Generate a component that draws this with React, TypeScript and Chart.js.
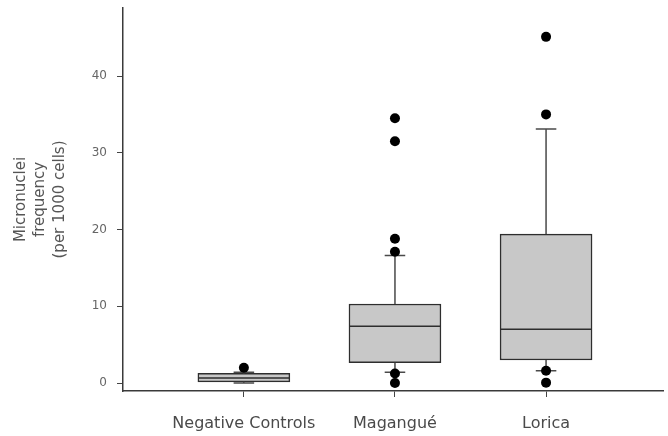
import React, { useEffect, useRef } from 'react';
import { Chart, registerables } from 'chart.js';

Chart.register(...registerables);

const categories = ['Negative Controls', 'Magangué', 'Lorica'];
const positions = [1, 2, 3];
const whiskerLow = [0, 1.4, 1.6];
const q1 = [0.15, 2.65, 3.0];
const median = [0.65, 7.4, 7.0];
const q3 = [1.25, 10.3, 19.4];
const whiskerHigh = [1.4, 16.6, 33.1];
const outliers = [
  [2.0],
  [0, 1.25, 17.1, 18.8, 31.5, 34.5],
  [0.05, 1.6, 35.0, 45.1],
];
const yTicks = [0, 10, 20, 30, 40];

const FONT = 'DejaVu Sans';
const BOX_PX = 92;
const BOX_HALF = 0.302;
const CAP_HALF = 0.068;

export default function App() {
  const ref = useRef<HTMLCanvasElement | null>(null);

  useEffect(() => {
    if (!ref.current) return;
    const gap = (p: number) => ({ x: p, y: null as any });

    const whiskerData: any[] = [];
    const medianData: any[] = [];
    positions.forEach((p, i) => {
      whiskerData.push({ x: p, y: q3[i] }, { x: p, y: whiskerHigh[i] }, gap(p));
      whiskerData.push({ x: p, y: q1[i] }, { x: p, y: whiskerLow[i] }, gap(p));
      whiskerData.push({ x: p - CAP_HALF, y: whiskerHigh[i] }, { x: p + CAP_HALF, y: whiskerHigh[i] }, gap(p));
      whiskerData.push({ x: p - CAP_HALF, y: whiskerLow[i] }, { x: p + CAP_HALF, y: whiskerLow[i] }, gap(p));
      medianData.push({ x: p - BOX_HALF, y: median[i] }, { x: p + BOX_HALF, y: median[i] }, gap(p));
    });

    const outlierData: any[] = [];
    positions.forEach((p, i) => outliers[i].forEach((v) => outlierData.push({ x: p, y: v })));

    const chart = new Chart(ref.current, {
      type: 'bar',
      data: {
        datasets: [
          {
            type: 'scatter',
            data: outlierData,
            pointRadius: 5,
            pointHoverRadius: 5,
            backgroundColor: '#000',
            borderColor: '#000',
            borderWidth: 0,
            order: 1,
          } as any,
          {
            type: 'line',
            data: medianData,
            borderColor: '#2e2e2e',
            borderWidth: 1.5,
            pointRadius: 0,
            spanGaps: false,
            fill: false,
            order: 2,
          } as any,
          {
            type: 'line',
            data: whiskerData,
            borderColor: '#4a4a4a',
            borderWidth: 1.5,
            pointRadius: 0,
            spanGaps: false,
            fill: false,
            order: 3,
          } as any,
          {
            type: 'bar',
            data: positions.map((p, i) => ({ x: p, y: [q1[i], q3[i]] })),
            backgroundColor: '#c8c8c8',
            borderColor: '#2e2e2e',
            borderWidth: 1.5,
            borderSkipped: false,
            barThickness: BOX_PX,
            order: 4,
          } as any,
        ],
      },
      options: {
        animation: false,
        responsive: false,
        layout: { padding: { top: 8, right: 0, left: 0, bottom: 0 } },
        plugins: { legend: { display: false }, tooltip: { enabled: false } },
        scales: {
          x: {
            type: 'linear',
            offset: false,
            min: 0.2,
            max: 3.774,
            afterBuildTicks: (s: any) => {
              s.ticks = positions.map((v) => ({ value: v }));
            },
            afterFit: (s: any) => {
              s.height = 45;
              s.paddingLeft = 0;
              s.paddingRight = 0;
            },
            ticks: {
              callback: (_v: any, idx: number) => categories[idx],
              font: { family: FONT, size: 16 },
              color: '#4a4a4a',
              padding: 17,
              maxRotation: 0,
              autoSkip: false,
            },
            grid: {
              display: true,
              offset: false,
              drawOnChartArea: false,
              drawTicks: true,
              tickLength: 6,
              color: '#444',
              lineWidth: 1,
            },
            border: { display: true, color: '#3a3a3a', width: 1.5 },
          },
          y: {
            type: 'linear',
            min: -1.04,
            max: 48.86,
            afterBuildTicks: (s: any) => {
              s.ticks = yTicks.map((v) => ({ value: v }));
            },
            afterFit: (s: any) => {
              s.width = 123;
              s.paddingTop = 0;
              s.paddingBottom = 0;
            },
            ticks: {
              font: { family: FONT, size: 12 },
              color: '#666',
              padding: 10,
            },
            grid: {
              display: true,
              drawOnChartArea: false,
              drawTicks: true,
              tickLength: 6,
              color: '#444',
              lineWidth: 1,
            },
            border: { display: true, color: '#3a3a3a', width: 1.5 },
            title: {
              display: true,
              text: ['Micronuclei', 'frequency', '(per 1000 cells)'],
              font: { family: FONT, size: 15, lineHeight: 1.3 },
              color: '#555',
              padding: { top: 11, bottom: 0 },
            },
          },
        },
      },
    });
    return () => chart.destroy();
  }, []);

  return (
    <div style={{ position: 'fixed', left: 0, top: 0, width: 668, height: 436, background: '#fff' }}>
      <canvas ref={ref} width={668} height={436} style={{ width: 668, height: 436, display: 'block' }} />
    </div>
  );
}
